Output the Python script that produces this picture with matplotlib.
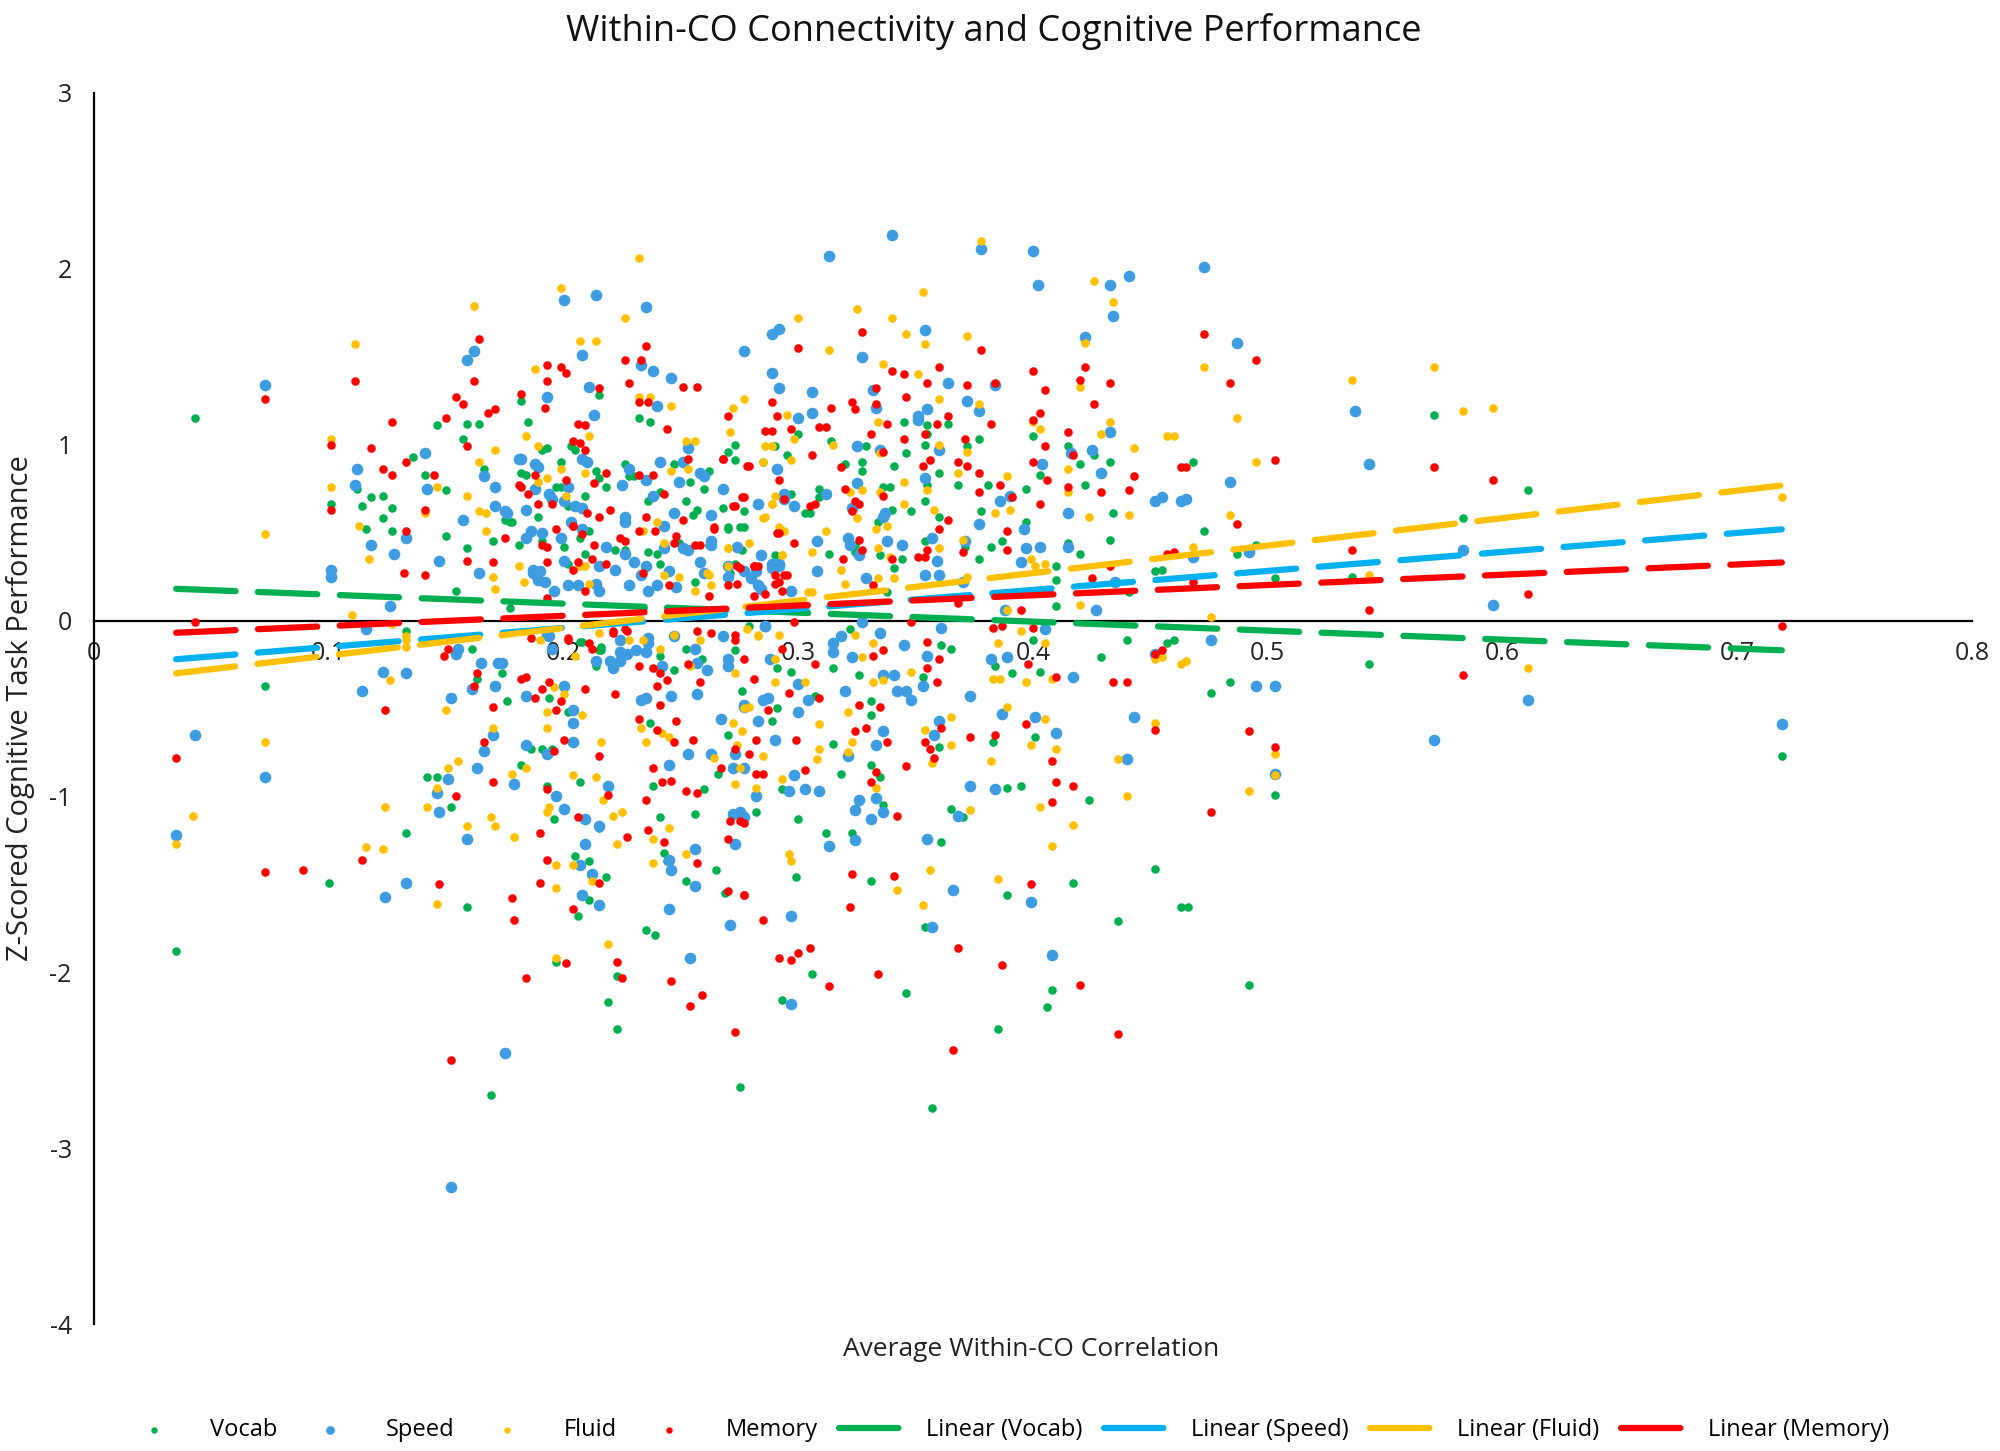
"""
Within-CO connectivity vs z-scored cognitive task performance
"""
import matplotlib
matplotlib.use("Agg")
import matplotlib.pyplot as plt
import numpy as np

# scatter points (x = average within-CO correlation, y = z-score)
vocab_pts = [
    (0.043, 1.15), (0.035, -1.88), (0.073, -0.37), (0.101, 0.66), (0.112, 0.75), (0.116, 0.52), (0.114, 0.65),
    (0.118, 0.70), (0.123, 0.71), (0.123, 0.58), (0.127, 0.64), (0.127, 0.51), (0.136, 0.93), (0.141, 0.83),
    (0.146, 1.11), (0.150, 0.74), (0.150, 0.48), (0.157, 1.03), (0.159, 1.12), (0.164, 1.12), (0.159, 0.41),
    (0.154, 0.17), (0.166, 0.86), (0.170, 0.45), (0.175, 0.57), (0.177, 0.56), (0.182, 1.25), (0.185, 1.13),
    (0.182, 0.84), (0.193, 0.98), (0.191, 0.97), (0.181, 0.43), (0.189, 0.59), (0.203, 0.99), (0.199, 0.90),
    (0.215, 1.28), (0.205, 0.97), (0.214, 0.85), (0.199, 0.76), (0.209, 0.71), (0.200, 0.42), (0.209, 0.38),
    (0.211, 0.51), (0.218, 0.76), (0.232, 1.15), (0.237, 1.13), (0.228, 0.82), (0.247, 0.89), (0.236, 0.68),
    (0.252, 0.68), (0.257, 0.63), (0.249, 0.44), (0.226, 0.40), (0.240, 0.38), (0.256, 0.22), (0.161, -0.16),
    (0.215, -0.17), (0.252, -0.16), (0.273, 1.00), (0.273, 0.91), (0.270, 0.96), (0.277, 0.62), (0.270, 0.52),
    (0.277, 0.53), (0.262, 0.43), (0.273, 0.32), (0.300, 1.06), (0.364, 1.12), (0.345, 1.13), (0.355, 1.11),
    (0.400, 1.05), (0.377, 1.03), (0.372, 0.99), (0.354, 1.00), (0.355, 1.06), (0.290, 0.99), (0.329, 0.99),
    (0.314, 1.02), (0.295, 0.94), (0.285, 0.90), (0.320, 0.89), (0.327, 0.90), (0.346, 0.95), (0.341, 0.88),
    (0.360, 0.84), (0.327, 0.85), (0.415, 0.99), (0.433, 0.90), (0.420, 0.89), (0.426, 0.94), (0.422, 0.77),
    (0.403, 0.83), (0.397, 0.75), (0.381, 0.77), (0.368, 0.77), (0.378, 0.62), (0.434, 0.61), (0.397, 0.56),
    (0.433, 0.46), (0.415, 0.44), (0.420, 0.38), (0.455, 0.29), (0.441, 0.16), (0.410, 0.31), (0.410, 0.23),
    (0.410, 0.08), (0.283, 0.66), (0.290, 0.37), (0.298, 0.10), (0.297, 0.72), (0.305, 0.61), (0.309, 0.75),
    (0.309, 0.70), (0.313, 0.38), (0.324, 0.39), (0.324, 0.43), (0.336, 0.76), (0.334, 0.56), (0.340, 0.63),
    (0.339, 0.76), (0.348, 0.62), (0.335, 0.37), (0.344, 0.35), (0.354, 0.45), (0.360, 0.59), (0.354, 0.68),
    (0.355, 0.77), (0.341, 0.30), (0.338, 0.16), (0.371, 0.42), (0.377, 0.35), (0.387, 0.45), (0.382, 0.42),
    (0.468, 0.90), (0.571, 1.17), (0.473, 0.51), (0.583, 0.58), (0.611, 0.74), (0.487, 0.38), (0.495, 0.43),
    (0.452, 0.28), (0.503, 0.24), (0.536, 0.25), (0.457, -0.13), (0.543, -0.25), (0.476, -0.41), (0.484, -0.35),
    (0.463, -1.63), (0.492, -2.07), (0.503, -0.99), (0.719, -0.77), (0.163, -0.33), (0.174, -0.30), (0.176, -0.46),
    (0.194, -0.44), (0.202, -0.52), (0.191, -0.73), (0.195, -0.73), (0.186, -0.73), (0.142, -0.89), (0.146, -0.89),
    (0.152, -1.06), (0.182, -0.82), (0.193, -0.94), (0.196, -1.13), (0.207, -0.92), (0.215, -1.18), (0.133, -1.21),
    (0.100, -1.49), (0.159, -1.63), (0.205, -1.34), (0.211, -1.37), (0.218, -1.46), (0.211, -1.59), (0.206, -1.68),
    (0.197, -1.94), (0.223, -2.02), (0.219, -2.17), (0.223, -2.32), (0.235, -1.76), (0.239, -1.79), (0.265, -1.42),
    (0.269, -1.55), (0.252, -1.48), (0.244, -1.37), (0.243, -1.32), (0.241, -1.12), (0.275, -2.65), (0.169, -2.70),
    (0.241, -0.20), (0.247, -0.28), (0.237, -0.58), (0.238, -0.94), (0.259, -0.22), (0.260, -0.96), (0.256, -1.10),
    (0.270, -0.65), (0.266, -0.87), (0.276, -0.40), (0.273, -0.17), (0.207, -0.12), (0.216, -0.17), (0.214, -0.26),
    (0.133, -0.06), (0.291, -0.27), (0.297, -0.29), (0.307, -0.43), (0.289, -0.57), (0.291, -0.50), (0.293, -0.96),
    (0.282, -1.09), (0.300, -1.13), (0.299, -1.46), (0.306, -2.01), (0.293, -2.16), (0.322, -0.05), (0.315, -0.27),
    (0.326, -0.31), (0.353, -0.32), (0.361, -0.14), (0.365, -0.16), (0.331, -0.46), (0.331, -0.54), (0.315, -0.70),
    (0.318, -0.87), (0.331, -0.82), (0.335, -0.89), (0.336, -1.05), (0.312, -1.21), (0.323, -1.21), (0.331, -1.48),
    (0.354, -1.74), (0.346, -2.12), (0.357, -2.77), (0.361, -1.26), (0.360, -0.72), (0.365, -1.07), (0.370, -1.12),
    (0.400, -0.11), (0.384, -0.26), (0.403, -0.29), (0.391, -0.30), (0.429, -0.21), (0.440, -0.11), (0.460, -0.11),
    (0.401, -0.66), (0.383, -0.69), (0.389, -0.95), (0.395, -0.94), (0.424, -1.02), (0.389, -1.56), (0.417, -1.49),
    (0.408, -2.10), (0.406, -2.20), (0.385, -2.32), (0.436, -1.71), (0.452, -1.41), (0.466, -1.63),
    (0.226, 0.89), (0.262, 0.85), (0.184, 0.83), (0.197, 0.76), (0.215, 0.81), (0.230, 0.82), (0.254, 0.79),
    (0.260, 0.75), (0.178, 0.56), (0.202, 0.65), (0.241, 0.73), (0.255, 0.60), (0.270, 0.53), (0.275, 0.53),
    (0.268, 0.64), (0.303, 0.61), (0.207, 0.47), (0.191, 0.45), (0.222, 0.40), (0.236, 0.39), (0.276, 0.40),
    (0.202, 0.32), (0.241, 0.32), (0.271, 0.27), (0.300, 0.10), (0.177, 0.07), (0.234, 0.07), (0.279, -0.03),
    (0.208, -0.12), (0.216, -0.15),
]

speed_pts = [
    (0.073, 1.34), (0.035, -1.22), (0.043, -0.65), (0.073, -0.89), (0.101, 0.29), (0.101, 0.25), (0.112, 0.86),
    (0.111, 0.77), (0.118, 0.43), (0.128, 0.38), (0.133, 0.47), (0.141, 0.95), (0.142, 0.75), (0.147, 0.34),
    (0.159, 1.48), (0.162, 1.53), (0.157, 0.57), (0.164, 0.27), (0.166, 0.82), (0.171, 0.76), (0.171, 0.65),
    (0.175, 0.62), (0.181, 0.92), (0.184, 0.63), (0.193, 1.27), (0.188, 0.89), (0.188, 0.75), (0.186, 0.51),
    (0.187, 0.27), (0.192, 0.22), (0.200, 1.82), (0.214, 1.85), (0.208, 1.51), (0.211, 1.33), (0.213, 1.17),
    (0.208, 0.92), (0.194, 0.72), (0.205, 0.65), (0.203, 0.56), (0.200, 0.34), (0.214, 0.21), (0.196, 0.17),
    (0.235, 1.78), (0.233, 1.45), (0.238, 1.42), (0.246, 1.38), (0.240, 1.22), (0.253, 0.98), (0.228, 0.86),
    (0.241, 0.90), (0.258, 0.84), (0.238, 0.71), (0.249, 0.79), (0.226, 0.56), (0.243, 0.54), (0.253, 0.40),
    (0.230, 0.33), (0.240, 0.20), (0.228, 0.20), (0.222, 0.29), (0.116, -0.05), (0.126, 0.08), (0.154, -0.19),
    (0.133, -0.30), (0.123, -0.29), (0.165, -0.24), (0.172, -0.24), (0.193, -0.08), (0.195, -0.16), (0.200, -0.37),
    (0.220, -0.23), (0.242, -0.26), (0.257, -0.24), (0.235, -0.44), (0.277, 1.53), (0.268, 0.75), (0.274, 0.42),
    (0.263, 0.45), (0.277, 0.28), (0.270, 0.25), (0.340, 2.19), (0.313, 2.07), (0.378, 2.11), (0.400, 2.10),
    (0.402, 1.91), (0.433, 1.91), (0.441, 1.96), (0.434, 1.73), (0.292, 1.66), (0.289, 1.63), (0.354, 1.65),
    (0.327, 1.50), (0.422, 1.61), (0.289, 1.41), (0.292, 1.32), (0.306, 1.30), (0.364, 1.35), (0.384, 1.34),
    (0.332, 1.31), (0.372, 1.25), (0.333, 1.21), (0.377, 1.19), (0.300, 1.15), (0.306, 1.18), (0.351, 1.16),
    (0.355, 1.20), (0.351, 1.14), (0.433, 1.07), (0.360, 0.97), (0.325, 0.99), (0.335, 0.97), (0.416, 0.95),
    (0.404, 0.89), (0.425, 0.97), (0.429, 0.84), (0.455, 0.70), (0.465, 0.69), (0.390, 0.71), (0.386, 0.68),
    (0.415, 0.61), (0.396, 0.52), (0.415, 0.42), (0.435, 0.22), (0.427, 0.06), (0.397, 0.41), (0.403, 0.42),
    (0.395, 0.33), (0.406, 0.17), (0.388, 0.06), (0.294, 0.72), (0.298, 0.65), (0.292, 0.31), (0.289, 0.32),
    (0.280, 0.24), (0.283, 0.20), (0.297, 0.17), (0.312, 0.72), (0.308, 0.45), (0.308, 0.28), (0.321, 0.47),
    (0.322, 0.43), (0.326, 0.37), (0.325, 0.78), (0.323, 0.64), (0.337, 0.61), (0.336, 0.59), (0.338, 0.45),
    (0.344, 0.43), (0.357, 0.47), (0.354, 0.81), (0.359, 0.34), (0.354, 0.26), (0.329, 0.24), (0.360, 0.26),
    (0.371, 0.45), (0.377, 0.55), (0.370, 0.22), (0.473, 2.01), (0.487, 1.58), (0.537, 1.19), (0.543, 0.89),
    (0.484, 0.79), (0.452, 0.68), (0.463, 0.68), (0.468, 0.36), (0.492, 0.39), (0.583, 0.40), (0.596, 0.09),
    (0.476, -0.11), (0.495, -0.37), (0.503, -0.37), (0.611, -0.45), (0.571, -0.68), (0.503, -0.87), (0.719, -0.59),
    (0.114, -0.40), (0.161, -0.39), (0.152, -0.44), (0.174, -0.24), (0.171, -0.37), (0.184, -0.43), (0.204, -0.51),
    (0.204, -0.58), (0.204, -0.69), (0.193, -0.76), (0.184, -0.71), (0.170, -0.65), (0.166, -0.74), (0.163, -0.84),
    (0.151, -0.90), (0.146, -0.98), (0.147, -1.09), (0.179, -0.93), (0.197, -1.00), (0.200, -1.07), (0.209, -1.13),
    (0.215, -1.17), (0.219, -0.94), (0.209, -1.27), (0.159, -1.24), (0.124, -1.57), (0.133, -1.49), (0.207, -1.39),
    (0.212, -1.44), (0.208, -1.56), (0.215, -1.62), (0.254, -1.92), (0.245, -1.64), (0.271, -1.73), (0.256, -1.51),
    (0.256, -1.30), (0.245, -1.36), (0.246, -1.42), (0.175, -2.46), (0.152, -3.22), (0.224, -0.23), (0.221, -0.27),
    (0.227, -0.19), (0.231, -0.17), (0.236, -0.13), (0.247, -0.09), (0.246, -0.43), (0.233, -0.45), (0.253, -0.76),
    (0.245, -0.82), (0.257, -0.42), (0.256, -0.16), (0.261, -0.28), (0.263, -0.76), (0.267, -0.56), (0.273, -0.76),
    (0.272, -1.10), (0.275, -1.09), (0.273, -1.27), (0.272, -0.84), (0.270, -0.22), (0.270, -0.26), (0.277, -0.49),
    (0.194, -0.09), (0.214, -0.23), (0.155, -0.16), (0.286, -0.03), (0.288, -0.22), (0.300, -0.36), (0.304, -0.45),
    (0.287, -0.44), (0.285, -0.45), (0.277, -0.48), (0.283, -0.57), (0.300, -0.52), (0.290, -0.68), (0.277, -0.84),
    (0.298, -0.88), (0.296, -0.97), (0.303, -0.96), (0.309, -0.97), (0.282, -1.00), (0.277, -1.12), (0.297, -1.68),
    (0.297, -2.18), (0.315, -0.13), (0.318, -0.09), (0.327, -0.01), (0.315, -0.18), (0.323, -0.21), (0.335, -0.07),
    (0.336, -0.31), (0.320, -0.40), (0.341, -0.31), (0.345, -0.14), (0.355, -0.20), (0.361, -0.04), (0.353, -0.37),
    (0.342, -0.40), (0.346, -0.40), (0.348, -0.45), (0.336, -0.63), (0.333, -0.71), (0.321, -0.77), (0.326, -1.02),
    (0.324, -1.08), (0.333, -1.01), (0.336, -1.09), (0.331, -1.13), (0.313, -1.28), (0.324, -1.25), (0.357, -1.74),
    (0.355, -1.24), (0.366, -1.53), (0.358, -0.65), (0.360, -0.57), (0.368, -1.11), (0.405, -0.05), (0.382, -0.22),
    (0.389, -0.21), (0.417, -0.32), (0.452, -0.19), (0.373, -0.43), (0.401, -0.55), (0.387, -0.53), (0.410, -0.64),
    (0.373, -0.94), (0.384, -0.96), (0.399, -1.60), (0.408, -1.90), (0.443, -0.55), (0.440, -0.79),
    (0.182, 0.92), (0.189, 0.87), (0.210, 0.90), (0.235, 0.80), (0.251, 0.90), (0.260, 0.82), (0.291, 0.86),
    (0.202, 0.76), (0.225, 0.77), (0.176, 0.61), (0.195, 0.69), (0.200, 0.68), (0.208, 0.64), (0.226, 0.59),
    (0.247, 0.61), (0.263, 0.60), (0.283, 0.66), (0.294, 0.69), (0.184, 0.47), (0.191, 0.50), (0.199, 0.47),
    (0.208, 0.52), (0.218, 0.42), (0.226, 0.38), (0.243, 0.41), (0.263, 0.43), (0.251, 0.41), (0.284, 0.37),
    (0.187, 0.29), (0.190, 0.28), (0.215, 0.31), (0.235, 0.31), (0.233, 0.26), (0.245, 0.28), (0.258, 0.33),
    (0.260, 0.27), (0.270, 0.31), (0.282, 0.28), (0.289, 0.30), (0.292, 0.32), (0.189, 0.23), (0.202, 0.20),
    (0.206, 0.20), (0.215, 0.17), (0.236, 0.17), (0.248, 0.19), (0.284, 0.18), (0.236, -0.10), (0.224, -0.11),
    (0.268, -0.09), (0.286, -0.03), (0.224, -0.18), (0.235, -0.18),
]

fluid_pts = [
    (0.073, 0.49), (0.035, -1.27), (0.042, -1.11), (0.073, -0.69), (0.101, 1.03), (0.101, 0.76), (0.111, 1.57),
    (0.113, 0.54), (0.117, 0.35), (0.141, 0.61), (0.146, 0.76), (0.162, 1.79), (0.159, 0.71), (0.164, 0.90),
    (0.164, 0.62), (0.171, 0.97), (0.167, 0.61), (0.167, 0.51), (0.170, 0.25), (0.171, 0.18), (0.184, 1.05),
    (0.188, 1.43), (0.189, 0.99), (0.193, 0.81), (0.181, 0.31), (0.199, 1.89), (0.207, 1.59), (0.214, 1.59),
    (0.211, 1.05), (0.209, 0.84), (0.201, 0.71), (0.207, 0.31), (0.226, 1.72), (0.232, 2.06), (0.232, 1.27),
    (0.237, 1.27), (0.246, 1.22), (0.252, 1.02), (0.256, 1.02), (0.253, 0.86), (0.240, 0.56), (0.249, 0.25),
    (0.110, 0.03), (0.127, -0.02), (0.133, -0.11), (0.126, -0.34), (0.190, -0.11), (0.228, -0.11), (0.277, 1.26),
    (0.272, 1.21), (0.271, 1.07), (0.270, 0.41), (0.270, 0.31), (0.261, 0.27), (0.378, 2.16), (0.426, 1.93),
    (0.434, 1.81), (0.353, 1.87), (0.325, 1.77), (0.340, 1.72), (0.300, 1.72), (0.346, 1.63), (0.372, 1.62),
    (0.354, 1.57), (0.313, 1.54), (0.422, 1.58), (0.336, 1.46), (0.351, 1.40), (0.420, 1.33), (0.360, 1.26),
    (0.377, 1.23), (0.295, 1.17), (0.298, 1.03), (0.334, 1.13), (0.400, 1.13), (0.403, 1.09), (0.433, 1.13),
    (0.429, 1.06), (0.460, 1.05), (0.372, 0.96), (0.360, 1.00), (0.286, 0.99), (0.289, 0.99), (0.315, 1.00),
    (0.297, 0.91), (0.335, 0.95), (0.368, 0.84), (0.443, 0.98), (0.415, 0.86), (0.415, 0.73), (0.389, 0.82),
    (0.390, 0.63), (0.384, 0.61), (0.424, 0.59), (0.441, 0.60), (0.399, 0.35), (0.401, 0.31), (0.405, 0.32),
    (0.420, 0.09), (0.389, 0.06), (0.285, 0.58), (0.289, 0.66), (0.290, 0.71), (0.292, 0.53), (0.294, 0.51),
    (0.279, 0.44), (0.293, 0.37), (0.312, 0.51), (0.306, 0.39), (0.318, 0.29), (0.304, 0.16), (0.320, 0.21),
    (0.322, 0.73), (0.327, 0.74), (0.325, 0.58), (0.335, 0.73), (0.333, 0.52), (0.338, 0.54), (0.345, 0.79),
    (0.345, 0.66), (0.334, 0.41), (0.339, 0.36), (0.360, 0.41), (0.358, 0.63), (0.355, 0.74), (0.341, 0.24),
    (0.334, 0.24), (0.370, 0.46), (0.372, 0.25), (0.473, 1.44), (0.487, 1.15), (0.457, 1.05), (0.495, 0.90),
    (0.536, 1.37), (0.571, 1.44), (0.583, 1.19), (0.596, 1.21), (0.484, 0.60), (0.468, 0.42), (0.719, 0.70),
    (0.543, 0.26), (0.476, 0.02), (0.452, -0.22), (0.463, -0.25), (0.611, -0.27), (0.503, -0.76), (0.503, -0.88),
    (0.492, -0.97), (0.150, -0.51), (0.196, -0.38), (0.200, -0.42), (0.193, -0.52), (0.208, -0.54), (0.193, -0.61),
    (0.170, -0.61), (0.151, -0.84), (0.155, -0.80), (0.146, -0.95), (0.142, -1.06), (0.124, -1.06), (0.178, -0.87),
    (0.184, -0.84), (0.193, -1.09), (0.194, -1.06), (0.204, -0.88), (0.214, -0.89), (0.216, -0.69), (0.217, -1.02),
    (0.221, -1.11), (0.225, -1.09), (0.223, -1.27), (0.159, -1.17), (0.169, -1.12), (0.171, -1.17), (0.179, -1.23),
    (0.116, -1.29), (0.123, -1.30), (0.146, -1.61), (0.197, -1.39), (0.197, -1.52), (0.204, -1.39), (0.212, -1.48),
    (0.219, -1.84), (0.197, -1.92), (0.252, -1.33), (0.238, -1.38), (0.238, -1.24), (0.245, -1.18), (0.234, -0.11),
    (0.233, -0.61), (0.235, -0.69), (0.242, -0.64), (0.245, -0.66), (0.264, -0.78), (0.272, -0.58), (0.274, -0.71),
    (0.273, -0.93), (0.275, -0.84), (0.273, -0.30), (0.277, -0.50), (0.254, -0.26), (0.133, -0.09), (0.133, -0.15),
    (0.205, -0.20), (0.278, -0.05), (0.283, -0.08), (0.292, -0.08), (0.290, -0.22), (0.290, -0.35), (0.303, -0.35),
    (0.279, -0.49), (0.276, -0.63), (0.309, -0.59), (0.309, -0.73), (0.285, -0.77), (0.308, -0.79), (0.293, -0.90),
    (0.282, -0.95), (0.296, -1.33), (0.297, -1.37), (0.324, -0.08), (0.327, -0.21), (0.332, -0.13), (0.332, -0.35),
    (0.336, -0.34), (0.348, -0.29), (0.321, -0.52), (0.323, -0.69), (0.321, -0.75), (0.333, -0.95), (0.342, -1.53),
    (0.353, -1.62), (0.356, -1.42), (0.357, -0.81), (0.365, -0.71), (0.365, -0.55), (0.354, -0.62), (0.373, -1.08),
    (0.395, -0.06), (0.385, -0.13), (0.405, -0.13), (0.386, -0.33), (0.383, -0.33), (0.397, -0.35), (0.408, -0.33),
    (0.455, -0.21), (0.465, -0.23), (0.405, -0.56), (0.389, -0.49), (0.399, -0.71), (0.410, -0.73), (0.382, -0.80),
    (0.403, -1.06), (0.417, -1.16), (0.408, -1.28), (0.385, -1.47), (0.452, -0.58), (0.436, -0.79), (0.440, -1.00),
    (0.199, 0.86), (0.246, 0.85), (0.285, 0.90), (0.189, 0.79), (0.234, 0.51), (0.289, 0.66), (0.286, 0.59),
    (0.243, 0.44), (0.270, 0.41), (0.293, 0.37), (0.209, 0.31), (0.243, 0.26), (0.262, 0.26), (0.183, 0.22),
    (0.211, 0.21), (0.256, 0.17), (0.263, 0.20), (0.306, 0.16), (0.247, -0.08), (0.283, -0.09), (0.215, -0.07),
    (0.241, -0.16), (0.258, -0.11),
]

memory_pts = [
    (0.073, 1.26), (0.043, -0.01), (0.035, -0.78), (0.073, -1.43), (0.101, 1.00), (0.101, 0.63), (0.111, 1.36),
    (0.118, 0.98), (0.123, 0.86), (0.127, 1.13), (0.127, 0.83), (0.133, 0.90), (0.132, 0.27), (0.133, 0.51),
    (0.141, 0.63), (0.145, 0.83), (0.150, 1.15), (0.141, 0.26), (0.154, 1.27), (0.157, 1.23), (0.159, 0.99),
    (0.162, 1.36), (0.164, 1.60), (0.159, 0.34), (0.168, 1.18), (0.171, 1.20), (0.175, 0.47), (0.170, 0.33),
    (0.182, 1.29), (0.181, 0.77), (0.188, 0.83), (0.193, 1.45), (0.192, 1.21), (0.193, 1.36), (0.185, 0.72),
    (0.191, 0.43), (0.199, 1.44), (0.201, 1.41), (0.207, 1.01), (0.204, 1.02), (0.215, 1.32), (0.209, 1.11),
    (0.206, 1.12), (0.209, 0.97), (0.195, 0.66), (0.201, 0.80), (0.210, 0.61), (0.204, 0.54), (0.208, 0.49),
    (0.206, 0.33), (0.212, 0.35), (0.220, 0.63), (0.226, 1.48), (0.228, 1.35), (0.235, 1.56), (0.233, 1.48),
    (0.232, 1.24), (0.236, 1.24), (0.251, 1.33), (0.257, 1.33), (0.244, 1.09), (0.232, 0.83), (0.253, 0.92),
    (0.243, 0.72), (0.232, 0.51), (0.248, 0.48), (0.258, 0.43), (0.224, 0.47), (0.245, 0.20), (0.149, -0.20),
    (0.162, -0.37), (0.182, -0.33), (0.209, -0.39), (0.232, -0.26), (0.240, -0.37), (0.222, -0.42), (0.270, 1.16),
    (0.268, 0.92), (0.278, 0.88), (0.276, 0.70), (0.273, 0.65), (0.264, 0.52), (0.274, 0.31), (0.270, 0.20),
    (0.274, 0.21), (0.262, 0.14), (0.327, 1.64), (0.300, 1.55), (0.378, 1.54), (0.340, 1.42), (0.345, 1.40),
    (0.360, 1.44), (0.400, 1.42), (0.422, 1.44), (0.420, 1.37), (0.433, 1.35), (0.355, 1.35), (0.372, 1.34),
    (0.384, 1.35), (0.405, 1.31), (0.333, 1.32), (0.289, 1.24), (0.346, 1.27), (0.323, 1.24), (0.324, 1.20),
    (0.333, 1.23), (0.314, 1.21), (0.426, 1.23), (0.291, 1.16), (0.309, 1.10), (0.312, 1.10), (0.286, 1.08),
    (0.289, 1.08), (0.297, 1.09), (0.364, 1.16), (0.359, 1.12), (0.338, 1.12), (0.331, 1.06), (0.382, 1.12),
    (0.400, 1.14), (0.403, 1.18), (0.415, 1.07), (0.371, 1.03), (0.345, 1.03), (0.354, 1.06), (0.306, 0.94),
    (0.279, 0.88), (0.318, 0.87), (0.336, 0.96), (0.368, 0.90), (0.372, 0.88), (0.377, 0.84), (0.356, 0.91),
    (0.353, 0.88), (0.400, 0.90), (0.405, 0.99), (0.417, 0.94), (0.465, 0.87), (0.443, 0.82), (0.429, 0.73),
    (0.441, 0.74), (0.415, 0.76), (0.406, 0.80), (0.386, 0.77), (0.391, 0.70), (0.377, 0.73), (0.403, 0.66),
    (0.433, 0.31), (0.425, 0.24), (0.460, 0.39), (0.395, 0.06), (0.277, 0.70), (0.294, 0.69), (0.291, 0.50),
    (0.298, 0.44), (0.281, 0.31), (0.283, 0.31), (0.290, 0.26), (0.294, 0.26), (0.286, 0.15), (0.290, 0.21),
    (0.307, 0.66), (0.305, 0.65), (0.319, 0.35), (0.326, 0.46), (0.327, 0.40), (0.320, 0.75), (0.324, 0.68),
    (0.326, 0.66), (0.323, 0.62), (0.336, 0.71), (0.340, 0.35), (0.351, 0.36), (0.354, 0.36), (0.355, 0.40),
    (0.360, 0.52), (0.364, 0.57), (0.332, 0.20), (0.368, 0.10), (0.370, 0.39), (0.389, 0.51), (0.389, 0.40),
    (0.473, 1.63), (0.495, 1.48), (0.484, 1.35), (0.463, 0.87), (0.503, 0.91), (0.571, 0.87), (0.596, 0.80),
    (0.487, 0.55), (0.457, 0.38), (0.536, 0.40), (0.468, 0.22), (0.543, 0.06), (0.611, 0.15), (0.719, -0.03),
    (0.452, -0.19), (0.583, -0.31), (0.492, -0.63), (0.503, -0.72), (0.476, -1.09), (0.124, -0.51), (0.163, -0.30),
    (0.170, -0.49), (0.184, -0.32), (0.188, -0.44), (0.191, -0.39), (0.194, -0.35), (0.199, -0.46), (0.197, -0.51),
    (0.200, -0.68), (0.196, -0.74), (0.166, -0.69), (0.154, -1.00), (0.170, -0.92), (0.193, -0.96), (0.206, -1.12),
    (0.215, -0.77), (0.219, -0.99), (0.227, -1.23), (0.190, -1.21), (0.114, -1.36), (0.089, -1.42), (0.147, -1.50),
    (0.178, -1.58), (0.179, -1.70), (0.193, -1.36), (0.190, -1.49), (0.215, -1.49), (0.204, -1.64), (0.201, -1.95),
    (0.223, -1.94), (0.225, -2.03), (0.184, -2.03), (0.246, -2.05), (0.254, -2.19), (0.259, -2.13), (0.270, -1.54),
    (0.277, -1.56), (0.257, -1.38), (0.243, -1.26), (0.236, -1.19), (0.273, -2.34), (0.152, -2.50), (0.221, -0.06),
    (0.226, -0.05), (0.238, -0.27), (0.241, -0.30), (0.244, -0.34), (0.241, -0.48), (0.232, -0.56), (0.240, -0.62),
    (0.247, -0.69), (0.248, -0.57), (0.255, -0.68), (0.246, -0.91), (0.238, -0.84), (0.242, -0.92), (0.235, -1.02),
    (0.253, -0.25), (0.258, -0.35), (0.257, -0.98), (0.252, -0.97), (0.267, -0.84), (0.273, -0.73), (0.271, -1.14),
    (0.275, -1.14), (0.270, -1.24), (0.273, -0.08), (0.277, -0.22), (0.202, -0.10), (0.211, -0.13), (0.151, -0.16),
    (0.298, -0.01), (0.293, -0.16), (0.307, -0.25), (0.281, -0.33), (0.296, -0.41), (0.309, -0.44), (0.287, -0.51),
    (0.282, -0.68), (0.299, -0.68), (0.279, -0.76), (0.282, -0.87), (0.285, -0.87), (0.303, -0.85), (0.277, -1.15),
    (0.277, -1.56), (0.285, -1.70), (0.292, -1.92), (0.297, -1.93), (0.300, -1.89), (0.305, -1.86), (0.313, -2.08),
    (0.332, -0.20), (0.336, -0.17), (0.355, -0.12), (0.355, -0.27), (0.348, -0.01), (0.360, -0.22), (0.359, -0.35),
    (0.326, -0.48), (0.335, -0.49), (0.329, -0.61), (0.324, -0.63), (0.338, -0.69), (0.346, -0.83), (0.333, -0.86),
    (0.331, -0.92), (0.342, -1.11), (0.323, -1.44), (0.341, -1.45), (0.322, -1.63), (0.334, -2.01), (0.366, -2.44),
    (0.368, -1.86), (0.354, -0.69), (0.356, -0.73), (0.358, -0.78), (0.361, -0.61), (0.383, -0.04), (0.387, -0.03),
    (0.400, -0.04), (0.398, -0.25), (0.410, -0.32), (0.455, -0.17), (0.434, -0.35), (0.440, -0.35), (0.397, -0.59),
    (0.384, -0.65), (0.373, -0.66), (0.408, -0.80), (0.410, -0.92), (0.417, -0.94), (0.408, -1.03), (0.399, -1.50),
    (0.387, -1.96), (0.420, -2.07), (0.436, -2.35), (0.452, -0.62),
    (0.218, 0.84), (0.238, 0.83), (0.268, 0.92), (0.292, 0.80), (0.182, 0.76), (0.213, 0.78), (0.189, 0.66),
    (0.215, 0.59), (0.235, 0.59), (0.239, 0.51), (0.251, 0.57), (0.264, 0.53), (0.272, 0.65), (0.292, 0.50),
    (0.197, 0.52), (0.204, 0.54), (0.193, 0.42), (0.213, 0.43), (0.226, 0.45), (0.247, 0.44), (0.256, 0.43),
    (0.193, 0.33), (0.204, 0.29), (0.218, 0.32), (0.234, 0.27), (0.275, 0.30), (0.281, 0.31), (0.295, 0.26),
    (0.209, 0.17), (0.292, 0.22), (0.293, 0.17), (0.281, 0.14), (0.193, 0.13), (0.227, -0.06), (0.221, -0.07),
    (0.257, -0.06), (0.263, -0.07), (0.273, -0.11), (0.202, -0.11), (0.186, -0.10), (0.212, -0.16),
]

# excel linear trendlines as drawn: (slope, intercept)
trend_vocab = (-0.511, 0.198)
trend_speed = (1.080, -0.258)
trend_fluid = (1.562, -0.355)
trend_memory = (0.584, -0.090)

series_names = ["Vocab", "Speed", "Fluid", "Memory"]
dot_colors = ["#00b050", "#3d9de0", "#ffc000", "#ff0000"]
line_colors = ["#00b050", "#00b0f0", "#ffc000", "#ff0000"]

plt.rcParams["font.family"] = ["Open Sans", "DejaVu Sans"]

fig = plt.figure(figsize=(20, 14.51), dpi=100)
ax = fig.add_axes([0.047, 0.0875, 0.939, 0.8485])

all_pts = [vocab_pts, speed_pts, fluid_pts, memory_pts]
all_trends = [trend_vocab, trend_speed, trend_fluid, trend_memory]
dot_sizes = [38, 70, 38, 38]

handles_dots = []
for name, pts, col, sz in zip(series_names, all_pts, dot_colors, dot_sizes):
    arr = np.array(pts)
    h = ax.scatter(arr[:, 0], arr[:, 1], s=sz, color=col, linewidths=0, label=name, zorder=3)
    handles_dots.append(h)

# trendlines span the x range of the data
x_lo = min(min(p[0] for p in pts) for pts in all_pts)
x_hi = max(max(p[0] for p in pts) for pts in all_pts)
xs = np.array([x_lo, x_hi])
handles_lines = []
for name, (m, b), col in zip(series_names, all_trends, line_colors):
    h, = ax.plot(xs, m * xs + b, color=col, lw=4.5, dashes=(9.5, 3.6),
                 solid_capstyle="round", dash_capstyle="round", label=f"Linear ({name})", zorder=4)
    handles_lines.append(h)

ax.set_xlim(0, 0.8)
ax.set_ylim(-4, 3)
ax.set_xticks(np.arange(0, 0.81, 0.1))
ax.set_xticklabels(["0", "0.1", "0.2", "0.3", "0.4", "0.5", "0.6", "0.7", "0.8"])
ax.set_yticks(np.arange(-4, 4, 1))
ax.set_yticklabels([str(v) for v in range(-4, 4)])

for s in ["top", "right"]:
    ax.spines[s].set_visible(False)
ax.spines["bottom"].set_position(("data", 0))
ax.spines["bottom"].set_linewidth(1.6)
ax.spines["left"].set_linewidth(1.6)
ax.spines["bottom"].set_zorder(2)
ax.tick_params(axis="both", length=0, labelsize=18, colors="#222222")
ax.tick_params(axis="x", pad=15)
ax.tick_params(axis="y", pad=16)
ax.set_facecolor("none")

fig.text(0.497, 0.978, "Within-CO Connectivity and Cognitive Performance",
         ha="center", va="center", fontsize=26, color="#111111")
fig.text(0.5155, 0.070, "Average Within-CO Correlation", ha="center", va="center", fontsize=19, color="#222222")
fig.text(0.0105, 0.512, "Z-Scored Cognitive Task Performance", ha="center", va="center",
         rotation=90, fontsize=21, color="#222222")

fig.legend(handles=handles_dots + handles_lines, loc="center", bbox_to_anchor=(0.503, 0.0145),
           ncol=8, frameon=False, fontsize=17, markerscale=0.75, handlelength=2.6,
           columnspacing=0.9, handletextpad=1.1)

fig.savefig("out.png", dpi=100)
